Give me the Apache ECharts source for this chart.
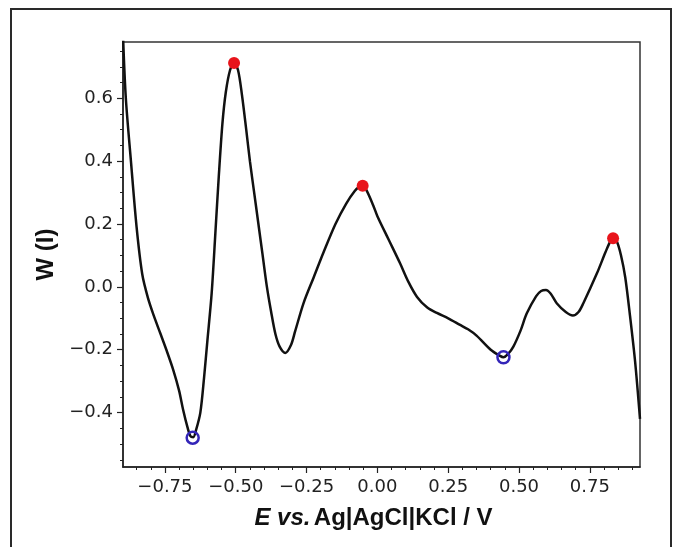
<!DOCTYPE html>
<html>
<head>
<meta charset="utf-8">
<script src="https://cdn.jsdelivr.net/npm/echarts@6/dist/echarts.min.js"></script>
<style>
html,body{margin:0;padding:0;background:#fff;}
#chart{width:678px;height:547px;}
</style>
</head>
<body>
<div id="chart"></div>
<script>
// Curve: potential (V) and W(I)
var potential = [-0.898,-0.888,-0.870,-0.850,-0.830,-0.810,-0.790,-0.767,-0.745,-0.721,-0.700,-0.686,-0.670,-0.660,-0.650,-0.640,-0.625,-0.612,-0.600,-0.585,-0.572,-0.560,-0.547,-0.535,-0.520,-0.506,-0.492,-0.478,-0.463,-0.450,-0.435,-0.420,-0.405,-0.390,-0.375,-0.360,-0.345,-0.325,-0.305,-0.290,-0.260,-0.225,-0.190,-0.148,-0.110,-0.080,-0.062,-0.052,-0.040,-0.015,0.000,0.040,0.080,0.110,0.140,0.175,0.210,0.250,0.290,0.320,0.350,0.400,0.430,0.445,0.460,0.480,0.505,0.527,0.560,0.578,0.595,0.612,0.633,0.665,0.690,0.710,0.727,0.775,0.805,0.822,0.832,0.845,0.860,0.875,0.892,0.910,0.927];
var wValues = [0.80,0.60,0.40,0.19,0.04,-0.035,-0.09,-0.146,-0.20,-0.263,-0.33,-0.39,-0.448,-0.475,-0.478,-0.455,-0.40,-0.29,-0.17,-0.02,0.17,0.35,0.52,0.62,0.69,0.712,0.69,0.61,0.50,0.40,0.30,0.20,0.10,0.0,-0.08,-0.15,-0.19,-0.21,-0.185,-0.14,-0.05,0.03,0.11,0.20,0.265,0.305,0.32,0.322,0.31,0.26,0.225,0.15,0.075,0.015,-0.032,-0.065,-0.083,-0.10,-0.12,-0.135,-0.155,-0.20,-0.218,-0.224,-0.215,-0.19,-0.14,-0.085,-0.03,-0.013,-0.01,-0.022,-0.052,-0.08,-0.091,-0.08,-0.052,0.043,0.11,0.145,0.155,0.145,0.10,0.03,-0.094,-0.24,-0.42];
// Marked maxima (red, filled) and minima (blue, open)
var peakX = [-0.506, -0.052, 0.832];
var peakY = [0.712, 0.322, 0.155];
var valleyX = [-0.652, 0.445];
var valleyY = [-0.480, -0.224];
// Tick values
var xTicks = [-0.75, -0.50, -0.25, 0.00, 0.25, 0.50, 0.75];
var yTicks = [-0.4, -0.2, 0.0, 0.2, 0.4, 0.6];
var xMinorTicks = [-0.85,-0.80,-0.70,-0.65,-0.60,-0.55,-0.45,-0.40,-0.35,-0.30,-0.20,-0.15,-0.10,-0.05,0.05,0.10,0.15,0.20,0.30,0.35,0.40,0.45,0.55,0.60,0.65,0.70,0.80,0.85,0.90];
var yMinorTicks = [-0.55,-0.50,-0.45,-0.35,-0.30,-0.25,-0.15,-0.10,-0.05,0.05,0.10,0.15,0.25,0.30,0.35,0.45,0.50,0.55,0.65,0.70,0.75];
var xRange = [-0.898, 0.927];
var yRange = [-0.573, 0.779];

function fmt(v, d){ var s = Math.abs(v).toFixed(d); return (v < -1e-9 ? '\u2212' : '') + s; }

var curve = potential.map(function(x,i){ return [x, wValues[i]]; });
var peaks = peakX.map(function(x,i){ return [x, peakY[i]]; });
var valleys = valleyX.map(function(x,i){ return [x, valleyY[i]]; });

var chart = echarts.init(document.getElementById('chart'), null, {renderer:'canvas'});
var axisCol = '#222';
var tickFont = {fontFamily:'DejaVu Sans', fontSize:18, color:'#222'};
chart.setOption({
  backgroundColor:'#fff',
  animation:false,
  graphic:[{type:'rect', shape:{x:11,y:9,width:660,height:620}, style:{fill:'none', stroke:'#2a2a2a', lineWidth:2}, z:-1}],
  grid:{left:123, top:42, right:38, bottom:80, show:true, borderColor:'#333', borderWidth:1.5, backgroundColor:'transparent'},
  xAxis:[{
    type:'value', min:xRange[0], max:xRange[1],
    axisLine:{show:true, onZero:false, lineStyle:{color:axisCol, width:1.5}},
    axisTick:{show:true, customValues:xTicks, length:6, lineStyle:{color:axisCol, width:1.2}},
    axisLabel:Object.assign({customValues:xTicks, margin:11, formatter:function(v){return fmt(v,2);}}, tickFont),
    splitLine:{show:false},
    name:'{i|E vs.} {b|Ag|AgCl|KCl / V}', nameLocation:'middle', nameGap:39,
    nameTextStyle:{padding:[0,16,0,0], rich:{
      i:{fontFamily:'Liberation Sans', fontWeight:'bold', fontStyle:'italic', fontSize:24, color:'#111'},
      b:{fontFamily:'Liberation Sans', fontWeight:'bold', fontSize:24, color:'#111'}
    }}
  },{
    type:'value', min:xRange[0], max:xRange[1], position:'bottom',
    axisLine:{show:false, onZero:false},
    axisTick:{show:true, customValues:xMinorTicks, length:3, lineStyle:{color:axisCol, width:1}},
    axisLabel:{show:false}, splitLine:{show:false}
  }],
  yAxis:[{
    type:'value', min:yRange[0], max:yRange[1],
    axisLine:{show:true, onZero:false, lineStyle:{color:axisCol, width:1.5}},
    axisTick:{show:true, customValues:yTicks, length:6, lineStyle:{color:axisCol, width:1.2}},
    axisLabel:Object.assign({customValues:yTicks, margin:10, formatter:function(v){return fmt(v,1);}}, tickFont),
    splitLine:{show:false},
    name:'W (I)', nameLocation:'middle', nameGap:60,
    nameTextStyle:{fontFamily:'Liberation Sans', fontWeight:'bold', fontSize:24, color:'#111'}
  },{
    type:'value', min:yRange[0], max:yRange[1], position:'left',
    axisLine:{show:false, onZero:false},
    axisTick:{show:true, customValues:yMinorTicks, length:3, lineStyle:{color:axisCol, width:1}},
    axisLabel:{show:false}, splitLine:{show:false}
  }],
  series:[{
    type:'line', data:curve, smooth:0.3, showSymbol:false, clip:true,
    lineStyle:{color:'#111', width:2.5}, z:2
  },{
    type:'scatter', data:peaks, symbol:'circle', symbolSize:12,
    itemStyle:{color:'#e8141b', opacity:1}, z:3
  },{
    type:'scatter', data:valleys, symbol:'circle', symbolSize:12,
    itemStyle:{color:'rgba(255,255,255,0)', borderColor:'#3325b8', borderWidth:2.5, opacity:1}, z:3
  }]
});
</script>
</body>
</html>
